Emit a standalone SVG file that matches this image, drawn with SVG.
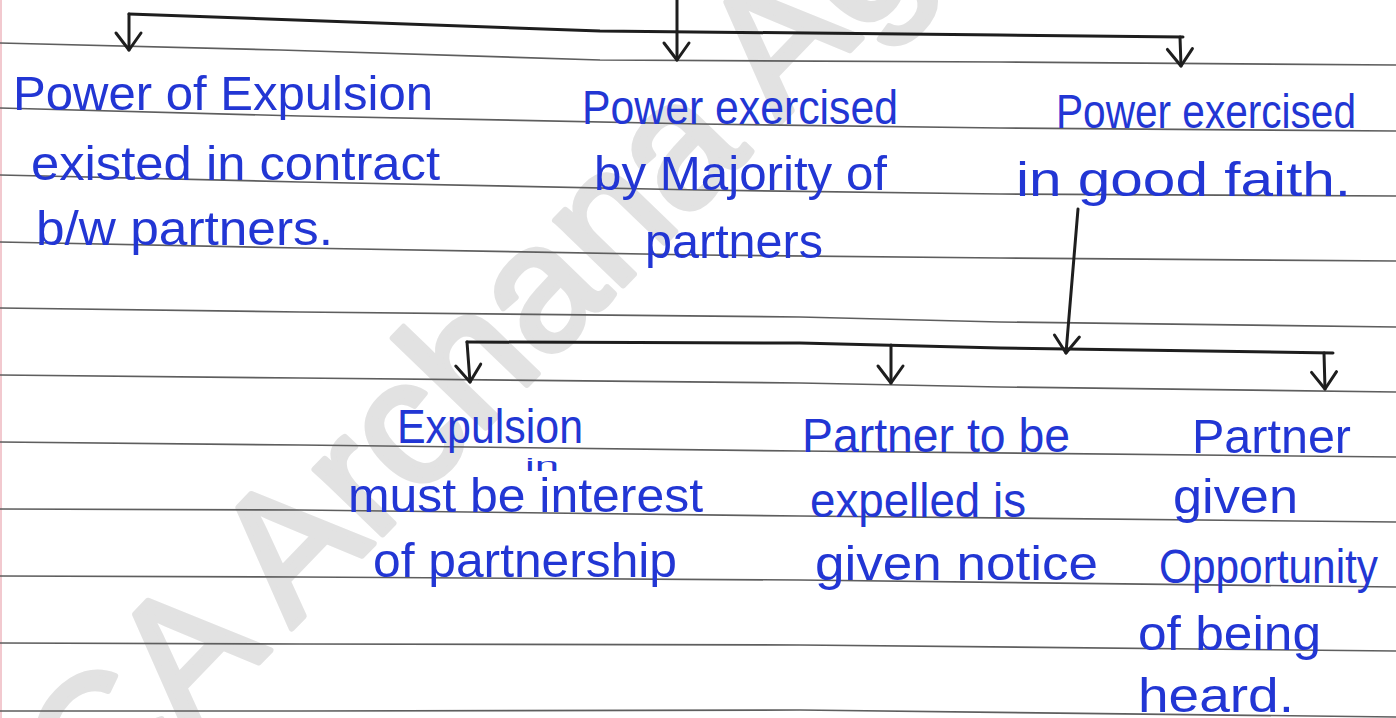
<svg xmlns="http://www.w3.org/2000/svg" width="1396" height="718" viewBox="0 0 1396 718">
  <style>
    .paper { fill: #ffffff; }
    .margin { stroke: #f2c9cf; stroke-width: 2; fill: none; }
    .rule { stroke: #5e5e5e; stroke-width: 1.7; fill: none; stroke-linejoin: round; }
    .wm { fill: #e2e2e2; stroke: #e2e2e2; stroke-width: 6; stroke-linejoin: round; font-family: "Liberation Sans", Arial, sans-serif; font-size: 178px; }
    .pen { stroke: #1e1e1e; stroke-width: 3; fill: none; stroke-linecap: round; stroke-linejoin: round; }
    .ink { fill: #2236d4; font-family: "Liberation Sans", Arial, sans-serif; font-size: 48px; }
    .ink-small { fill: #2236d4; font-family: "Liberation Sans", Arial, sans-serif; font-size: 18px; }
  </style>
  <defs>
    <!-- open hand-drawn style arrowhead -->
    <marker id="vhead" markerUnits="userSpaceOnUse" viewBox="-24 -16 28 32" markerWidth="28" markerHeight="32" refX="0" refY="0" orient="auto" overflow="visible">
      <path d="M-17,-12 L0,0 L-17,13" fill="none" stroke="#1e1e1e" stroke-width="3" stroke-linecap="round" stroke-linejoin="round"/>
    </marker>
  </defs>

  <rect class="paper" x="0" y="0" width="1396" height="718"/>

  <!-- background watermark -->
  <text class="wm" transform="translate(99,828) rotate(-46)">CA Archana Ag</text>

  <!-- ruled notebook lines -->
  <g id="rules">
    <line class="margin" x1="1" y1="0" x2="1" y2="718"/>
    <polyline class="rule" points="0,43 280,50 600,60 1000,62 1396,65"/>
    <polyline class="rule" points="0,108 300,116 700,124 1000,128 1396,131"/>
    <polyline class="rule" points="0,175 300,182 700,190 1000,194 1396,196"/>
    <polyline class="rule" points="0,242 300,248 700,255 1000,258 1396,261"/>
    <polyline class="rule" points="0,308 300,312 800,317 1000,322 1396,327"/>
    <polyline class="rule" points="0,375 300,378 800,383 1000,387 1396,392"/>
    <polyline class="rule" points="0,442 300,445 800,451 1396,457"/>
    <polyline class="rule" points="0,509 300,510 800,516 1396,522"/>
    <polyline class="rule" points="0,576 300,577 800,580 1396,587"/>
    <polyline class="rule" points="0,643 300,644 800,645 1396,651"/>
    <polyline class="rule" points="0,711 300,711 800,710 1396,717"/>
  </g>

  <!-- connectors -->
  <g id="connectors">
    <path class="pen" d="M677,0 L677,60" marker-end="url(#vhead)"/>
    <path class="pen" d="M129,14 L600,31 L1000,35 L1183,37"/>
    <path class="pen" d="M129,14 L129,50" marker-end="url(#vhead)"/>
    <path class="pen" d="M1180,37 L1181,66" marker-end="url(#vhead)"/>
    <path class="pen" d="M1078,209 L1066,353" marker-end="url(#vhead)"/>
    <path class="pen" d="M467,342 L800,343 L1000,348 L1333,353"/>
    <path class="pen" d="M467,342 L470,382" marker-end="url(#vhead)"/>
    <path class="pen" d="M891,345 L891,383" marker-end="url(#vhead)"/>
    <path class="pen" d="M1324,353 L1325,389" marker-end="url(#vhead)"/>
  </g>

  <!-- first level -->
  <g id="node-contract">
    <text class="ink" x="13" y="110" textLength="420" lengthAdjust="spacingAndGlyphs">Power of Expulsion</text>
    <text class="ink" x="31" y="180" textLength="409" lengthAdjust="spacingAndGlyphs">existed in contract</text>
    <text class="ink" x="36" y="245" textLength="297" lengthAdjust="spacingAndGlyphs">b/w partners.</text>
  </g>
  <g id="node-majority">
    <text class="ink" x="582" y="124" textLength="316" lengthAdjust="spacingAndGlyphs">Power exercised</text>
    <text class="ink" x="594" y="190" textLength="293" lengthAdjust="spacingAndGlyphs">by Majority of</text>
    <text class="ink" x="645" y="258" textLength="178" lengthAdjust="spacingAndGlyphs">partners</text>
  </g>
  <g id="node-good-faith">
    <text class="ink" x="1056" y="128" textLength="300" lengthAdjust="spacingAndGlyphs">Power exercised</text>
    <text class="ink" x="1016" y="196" textLength="335" lengthAdjust="spacingAndGlyphs">in good faith.</text>
  </g>

  <!-- second level -->
  <g id="node-interest">
    <text class="ink" x="397" y="443" textLength="186" lengthAdjust="spacingAndGlyphs">Expulsion</text>
    <text class="ink-small" x="525" y="471" textLength="34" lengthAdjust="spacingAndGlyphs">in</text>
    <text class="ink" x="348" y="512" textLength="355" lengthAdjust="spacingAndGlyphs">must be interest</text>
    <text class="ink" x="373" y="577" textLength="304" lengthAdjust="spacingAndGlyphs">of partnership</text>
  </g>
  <g id="node-notice">
    <text class="ink" x="802" y="452" textLength="268" lengthAdjust="spacingAndGlyphs">Partner to be</text>
    <text class="ink" x="810" y="517" textLength="216" lengthAdjust="spacingAndGlyphs">expelled is</text>
    <text class="ink" x="815" y="580" textLength="283" lengthAdjust="spacingAndGlyphs">given notice</text>
  </g>
  <g id="node-heard">
    <text class="ink" x="1192" y="453" textLength="159" lengthAdjust="spacingAndGlyphs">Partner</text>
    <text class="ink" x="1173" y="513" textLength="125" lengthAdjust="spacingAndGlyphs">given</text>
    <text class="ink" x="1159" y="583" textLength="219" lengthAdjust="spacingAndGlyphs">Opportunity</text>
    <text class="ink" x="1138" y="650" textLength="183" lengthAdjust="spacingAndGlyphs">of being</text>
    <text class="ink" x="1138" y="712" textLength="156" lengthAdjust="spacingAndGlyphs">heard.</text>
  </g>
</svg>
